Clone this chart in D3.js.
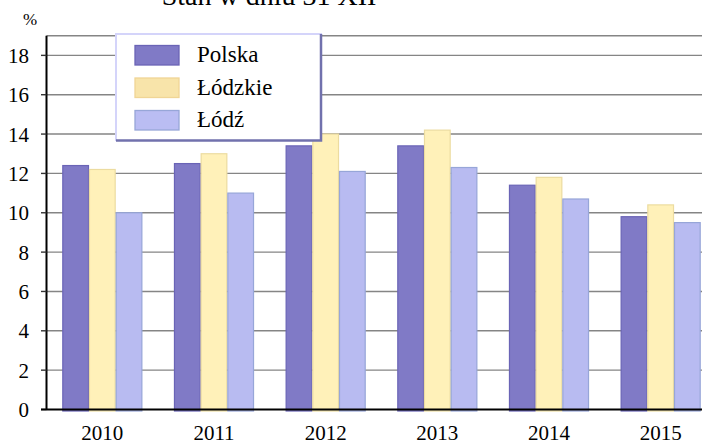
<!DOCTYPE html>
<html lang="pl">
<head>
<meta charset="UTF-8">
<title>Stan w dniu 31 XII</title>
<script src="https://d3js.org/d3.v7.min.js"></script>
<style>
  body { margin: 0; background: #fff; }
  svg { display: block; }
  svg text { font-family: "Liberation Serif", "Times New Roman", serif; }
</style>
</head>
<body>
<script>
// dane
const years = ["2010", "2011", "2012", "2013", "2014", "2015"];
const seriesNames = ["Polska", "Łódzkie", "Łódź"];
const polska  = [12.4, 12.5, 13.4, 13.4, 11.4, 9.8];
const lodzkie = [12.2, 13.0, 14.0, 14.2, 11.8, 10.4];
const lodz    = [10.0, 11.0, 12.1, 12.3, 10.7, 9.5];
const yTicks = [0, 2, 4, 6, 8, 10, 12, 14, 16, 18];

const seriesValues = [polska, lodzkie, lodz];
const fills   = ["#807ac6", "#fff1b9", "#b8bbf1"];
const strokes = ["#6a64b6", "#ecdca0", "#97a6d8"];
const legendFills   = ["#807ac6", "#f8e4aa", "#babdf3"];
const legendStrokes = ["#6a64b6", "#f0d596", "#97a6d8"];

const width = 702, height = 443;
const x0Axis = 46.5, yBase = 409.5, yTop = 35.7;
const serif = '"Liberation Serif", "Times New Roman", serif';

const svg = d3.select("body").append("svg")
  .attr("width", width).attr("height", height);

const y = d3.scaleLinear().domain([0, 19]).range([yBase, yTop]);

const x0 = d3.scaleBand().domain(years)
  .range([x0Axis, 716.5])
  .paddingInner(0.283).paddingOuter(0.1415);

const x1 = d3.scaleBand().domain(d3.range(seriesNames.length))
  .range([0, x0.bandwidth()]);

// linie siatki
svg.append("g").selectAll("line")
  .data(yTicks.filter(d => d > 0).concat([19]))
  .enter().append("line")
  .attr("x1", x0Axis).attr("x2", width)
  .attr("y1", d => y(d)).attr("y2", d => y(d))
  .attr("stroke", "#858585").attr("stroke-width", 1.4);

// słupki
const rows = years.map((yr, i) => seriesValues.map((s, j) => ({ yr, j, v: s[i] })));
svg.append("g").selectAll("g")
  .data(rows)
  .enter().append("g")
  .attr("transform", (d, i) => `translate(${x0(years[i])},0)`)
  .selectAll("rect")
  .data(d => d)
  .enter().append("rect")
  .attr("x", d => x1(d.j) + 0.5)
  .attr("y", d => y(d.v))
  .attr("width", x1.bandwidth() - 1)
  .attr("height", d => yBase + 1.5 - y(d.v))
  .attr("fill", d => fills[d.j])
  .attr("stroke", d => strokes[d.j])
  .attr("stroke-width", 1.2);

// oś Y
const yAxis = svg.append("g");
yAxis.append("line")
  .attr("x1", x0Axis).attr("x2", x0Axis)
  .attr("y1", yTop).attr("y2", yBase)
  .attr("stroke", "#000").attr("stroke-width", 2);
yAxis.selectAll(".tick")
  .data(yTicks).enter().append("line")
  .attr("x1", 41).attr("x2", x0Axis)
  .attr("y1", d => y(d)).attr("y2", d => y(d))
  .attr("stroke", "#333").attr("stroke-width", 1.4);
yAxis.selectAll("text")
  .data(yTicks).enter().append("text")
  .attr("x", 29).attr("y", d => y(d) + 7.5)
  .attr("text-anchor", "end")
  .attr("font-family", serif)
  .attr("font-size", 21)
  .text(d => d);

// oś X
svg.append("line")
  .attr("x1", 41).attr("x2", width)
  .attr("y1", yBase).attr("y2", yBase)
  .attr("stroke", "#000").attr("stroke-width", 2);
svg.append("g").selectAll("text")
  .data(years).enter().append("text")
  .attr("x", d => x0(d) + x0.bandwidth() / 2)
  .attr("y", 439.5)
  .attr("text-anchor", "middle")
  .attr("font-family", serif)
  .attr("font-size", 21)
  .text(d => d);

// tytuł i jednostka
svg.append("text")
  .attr("x", 269).attr("y", 5)
  .attr("text-anchor", "middle")
  .attr("font-family", serif)
  .attr("font-size", 28)
  .text("Stan w dniu 31 XII");
svg.append("text")
  .attr("x", 23).attr("y", 25)
  .attr("font-family", serif)
  .attr("font-size", 17)
  .text("%");

// legenda
const lg = svg.append("g");
lg.append("rect")
  .attr("x", 116).attr("y", 34).attr("width", 205).attr("height", 106)
  .attr("fill", "#fff");
lg.append("path")
  .attr("d", "M116,141 V34 H322")
  .attr("fill", "none").attr("stroke", "#d4d4fa").attr("stroke-width", 2);
lg.append("path")
  .attr("d", "M321,34 V140.5 H116")
  .attr("fill", "none").attr("stroke", "#7171ad").attr("stroke-width", 2.5);
const items = lg.selectAll(".item")
  .data(seriesNames).enter().append("g")
  .attr("transform", (d, i) => `translate(0,${i * 32.5})`);
items.append("rect")
  .attr("x", 135).attr("y", 45.5).attr("width", 44).attr("height", 19.5)
  .attr("fill", (d, i) => legendFills[i])
  .attr("stroke", (d, i) => legendStrokes[i])
  .attr("stroke-width", 1.3);
items.append("text")
  .attr("x", 197).attr("y", 62)
  .attr("font-family", serif)
  .attr("font-size", 23)
  .text(d => d);
</script>
</body>
</html>
